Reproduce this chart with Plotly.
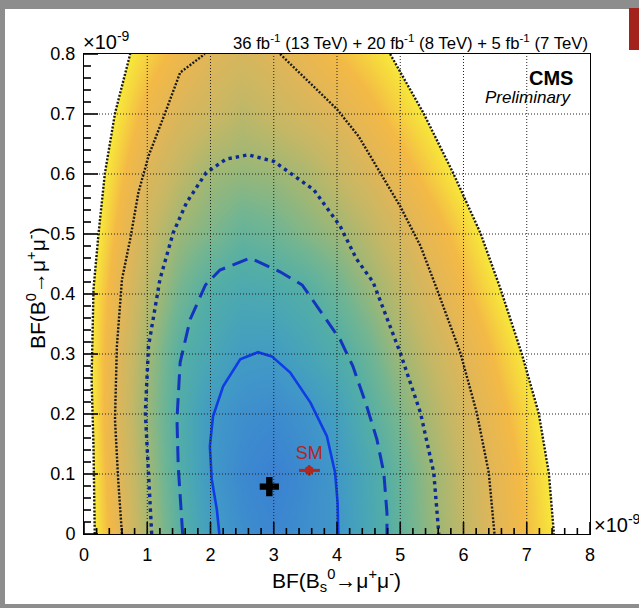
import plotly.graph_objects as go

# ---------------- data ----------------
# significance surface (in sigma) on a coarse grid
SIG_X = [0, 0.5, 1, 1.5, 2, 2.5, 3, 3.5, 4, 4.5, 5, 5.5, 6, 6.5, 7, 7.5, 8]
SIG_Y = [0, 0.1, 0.2, 0.3, 0.4, 0.5, 0.6, 0.7, 0.8]
SIG_Z = [
    [5.40, 4.23, 3.15, 2.12, 1.24, 0.70, 0.39, 0.69, 0.99, 1.63, 2.26, 2.87, 3.44, 4.01, 4.54, 5.07, 5.60],
    [5.38, 4.10, 3.04, 1.98, 1.04, 0.50, 0.11, 0.58, 1.05, 1.69, 2.33, 2.96, 3.54, 4.11, 4.63, 5.16, 5.68],
    [5.36, 3.98, 2.94, 1.95, 1.09, 0.72, 0.58, 0.85, 1.31, 2.04, 2.62, 3.20, 3.76, 4.30, 4.81, 5.32, 5.83],
    [5.30, 4.05, 3.04, 2.08, 1.61, 1.19, 1.16, 1.52, 1.88, 2.40, 3.00, 3.53, 4.05, 4.56, 5.07, 5.58, 6.10],
    [5.30, 4.23, 3.29, 2.51, 1.93, 1.70, 1.77, 1.96, 2.39, 2.87, 3.39, 3.91, 4.41, 4.90, 5.40, 5.90, 6.40],
    [5.46, 4.46, 3.60, 2.94, 2.62, 2.29, 2.43, 2.69, 2.94, 3.35, 3.80, 4.27, 4.74, 5.22, 5.70, 6.20, 6.70],
    [5.54, 4.72, 3.94, 3.43, 2.98, 2.87, 2.94, 3.14, 3.51, 3.87, 4.28, 4.71, 5.14, 5.57, 6.00, 6.40, 6.80],
    [5.62, 4.99, 4.35, 3.88, 3.62, 3.35, 3.57, 3.78, 4.00, 4.36, 4.73, 5.09, 5.46, 5.82, 6.20, 6.55, 6.90],
    [5.62, 5.19, 4.77, 4.35, 3.97, 3.80, 3.97, 4.23, 4.52, 4.80, 5.09, 5.38, 5.67, 5.95, 6.20, 6.50, 6.80],
]

# 1 sigma contour (solid)
C1_X = [2.14, 2.10, 2.02, 1.99, 2.04, 2.20, 2.47, 2.75, 2.97, 3.26, 3.58, 3.84, 3.97, 4.01, 4.02]
C1_Y = [0.0, 0.041, 0.091, 0.146, 0.196, 0.246, 0.291, 0.303, 0.296, 0.269, 0.219, 0.163, 0.102, 0.052, 0.0]
# 2 sigma contour (dashed)
C2_X = [1.56, 1.49, 1.47, 1.52, 1.68, 1.92, 2.15, 2.63, 3.10, 3.45, 4.05, 4.25, 4.47, 4.63, 4.74, 4.79, 4.79]
C2_Y = [0.0, 0.113, 0.191, 0.286, 0.358, 0.415, 0.440, 0.460, 0.437, 0.415, 0.324, 0.280, 0.213, 0.158, 0.102, 0.035, 0.0]
# 3 sigma contour (blue dotted)
C3_X = [1.07, 1.02, 0.97, 1.02, 1.20, 1.41, 1.62, 1.93, 2.25, 2.60, 3.00, 3.63, 4.05, 4.31, 4.57, 5.00, 5.32, 5.53, 5.61]
C3_Y = [0.0, 0.091, 0.202, 0.313, 0.424, 0.502, 0.552, 0.602, 0.625, 0.632, 0.621, 0.574, 0.513, 0.458, 0.420, 0.302, 0.202, 0.102, 0.0]
# 4 sigma contour (black dotted), leaves the frame at the top
C4_X = [0.60, 0.54, 0.49, 0.52, 0.60, 0.73, 0.86, 1.02, 1.28, 1.52, 1.91, None,
        3.10, 3.63, 4.00, 4.34, 4.68, 5.00, 5.32, 5.58, 5.95, 6.21, 6.40, 6.49]
C4_Y = [0.0, 0.091, 0.191, 0.313, 0.424, 0.491, 0.569, 0.630, 0.701, 0.769, 0.8, None,
        0.8, 0.746, 0.708, 0.663, 0.602, 0.546, 0.480, 0.408, 0.302, 0.202, 0.102, 0.0]
# outer edge of the scanned region (black dotted)
EDGE_L_X = [0.17, 0.15, 0.12, 0.15, 0.23, 0.33, 0.49, 0.73]
EDGE_L_Y = [0.0, 0.146, 0.258, 0.408, 0.501, 0.601, 0.701, 0.8]
EDGE_R_X = [4.84, 5.37, 5.84, 6.27, 6.58, 6.92, 7.19, 7.35, 7.43]
EDGE_R_Y = [0.8, 0.701, 0.601, 0.501, 0.410, 0.301, 0.201, 0.101, 0.0]

BEST_X = [2.93]
BEST_Y = [0.079]
SM_X = [3.56]
SM_Y = [0.106]
SM_XERR_M = [0.16]
SM_XERR_P = [0.17]
SM_YERR = [0.009]

X_TICKS = [0, 1, 2, 3, 4, 5, 6, 7, 8]
Y_TICKS = [0, 0.1, 0.2, 0.3, 0.4, 0.5, 0.6, 0.7, 0.8]
N_MINOR = 5

FONT = "Liberation Sans, Arial, Helvetica, sans-serif"

# ---------------- figure ----------------
W, H = 639, 608
ML, MR, MT, MB = 84, 49, 54, 74
PW, PH = W - ML - MR, H - MT - MB
XR = X_TICKS[-1] - X_TICKS[0]
YR = Y_TICKS[-1] - Y_TICKS[0]


def px(x):
    return (x - ML) / PW


def py(y):
    return (H - MB - y) / PH


colorscale = [
    [0.00, "#3a7fd3"], [0.10, "#3c89cf"], [0.20, "#4097c8"], [0.30, "#47a4b8"],
    [0.40, "#53aea6"], [0.50, "#72b592"], [0.60, "#a0b774"], [0.70, "#c6b765"],
    [0.80, "#e0b658"], [0.90, "#f3b946"], [0.96, "#f6d63e"], [1.00, "#f7e93a"],
]

fig = go.Figure()
fig.add_trace(go.Heatmap(x=SIG_X, y=SIG_Y, z=SIG_Z, zmin=0, zmax=5, zsmooth="best",
                         colorscale=colorscale, showscale=False, hoverinfo="skip"))

# white outside the scanned region
fig.add_trace(go.Scatter(x=EDGE_L_X + [0, 0], y=EDGE_L_Y + [0.8, 0], fill="toself",
                         fillcolor="white", line=dict(width=0), mode="lines",
                         hoverinfo="skip", showlegend=False))
fig.add_trace(go.Scatter(x=EDGE_R_X + [8, 8], y=EDGE_R_Y + [0, 0.8], fill="toself",
                         fillcolor="white", line=dict(width=0), mode="lines",
                         hoverinfo="skip", showlegend=False))

# contours
for xs, ys in [(EDGE_L_X, EDGE_L_Y), (EDGE_R_X, EDGE_R_Y), (C4_X, C4_Y)]:
    fig.add_trace(go.Scatter(x=xs, y=ys, mode="lines",
                             line=dict(color="#1a1a1a", width=2.4, dash="2px,1.6px"),
                             hoverinfo="skip", showlegend=False, connectgaps=False))
fig.add_trace(go.Scatter(x=C3_X, y=C3_Y, mode="lines",
                         line=dict(color="#0c2a94", width=3.4, dash="3.4px,4px"),
                         hoverinfo="skip", showlegend=False))
fig.add_trace(go.Scatter(x=C2_X, y=C2_Y, mode="lines",
                         line=dict(color="#1434c0", width=3, dash="16px,8px"),
                         hoverinfo="skip", showlegend=False))
fig.add_trace(go.Scatter(x=C1_X, y=C1_Y, mode="lines",
                         line=dict(color="#0f3ce6", width=2.6),
                         hoverinfo="skip", showlegend=False))

# inside ticks on the left and bottom axes (ROOT style), built from the tick lists
tx, ty = [], []
for i, xv in enumerate(X_TICKS):
    tx += [xv, xv, None]
    ty += [Y_TICKS[0], Y_TICKS[0] + 12 * YR / PH, None]
    if i < len(X_TICKS) - 1:
        step = (X_TICKS[i + 1] - xv) / N_MINOR
        for k in range(1, N_MINOR):
            tx += [xv + k * step, xv + k * step, None]
            ty += [Y_TICKS[0], Y_TICKS[0] + 6 * YR / PH, None]
for i, yv in enumerate(Y_TICKS):
    tx += [X_TICKS[0], X_TICKS[0] + 14 * XR / PW, None]
    ty += [yv, yv, None]
    if i < len(Y_TICKS) - 1:
        step = (Y_TICKS[i + 1] - yv) / N_MINOR
        for k in range(1, N_MINOR):
            tx += [X_TICKS[0], X_TICKS[0] + 7 * XR / PW, None]
            ty += [yv + k * step, yv + k * step, None]
fig.add_trace(go.Scatter(x=tx, y=ty, mode="lines", line=dict(color="black", width=1.6),
                         hoverinfo="skip", showlegend=False, connectgaps=False))

# best fit and SM
fig.add_trace(go.Scatter(x=BEST_X, y=BEST_Y, mode="markers",
                         marker=dict(symbol="cross", size=16, color="black"),
                         hoverinfo="skip", showlegend=False))
fig.add_trace(go.Scatter(x=SM_X, y=SM_Y, mode="markers+text", text=["SM"],
                         textposition="top center",
                         textfont=dict(family=FONT, size=18, color="#b0281e"),
                         marker=dict(symbol="circle", size=9, color="#b0281e"),
                         error_x=dict(type="data", symmetric=False, array=SM_XERR_P,
                                      arrayminus=SM_XERR_M, color="#b0281e",
                                      thickness=3, width=0),
                         error_y=dict(type="data", array=SM_YERR, color="#b0281e",
                                      thickness=2, width=0),
                         hoverinfo="skip", showlegend=False))

shapes = []
GRID = dict(color="#222222", width=1, dash="1px,2px")
# dotted grid above the map
for xv in X_TICKS[1:-1]:
    shapes.append(dict(type="line", xref="x", yref="y", x0=xv, x1=xv, y0=Y_TICKS[0], y1=Y_TICKS[-1],
                       line=GRID, layer="above"))
for yv in Y_TICKS[1:-1]:
    shapes.append(dict(type="line", xref="x", yref="y", x0=X_TICKS[0], x1=X_TICKS[-1], y0=yv, y1=yv,
                       line=GRID, layer="above"))

# slide background around the white panel
GRAY = "#8d8d8d"
shapes += [
    dict(type="rect", xref="paper", yref="paper", x0=px(0), x1=px(W), y0=py(9), y1=py(0),
         fillcolor=GRAY, line=dict(width=0), layer="above"),
    dict(type="rect", xref="paper", yref="paper", x0=px(0), x1=px(5), y0=py(H), y1=py(0),
         fillcolor=GRAY, line=dict(width=0), layer="above"),
    dict(type="rect", xref="paper", yref="paper", x0=px(0), x1=px(W), y0=py(H), y1=py(604),
         fillcolor=GRAY, line=dict(width=0), layer="above"),
    dict(type="rect", xref="paper", yref="paper", x0=px(629), x1=px(W), y0=py(50), y1=py(8),
         fillcolor="#a3221c", line=dict(width=0), layer="above"),
]

annotations = [
    dict(text="36 fb<sup>-1</sup> (13 TeV) + 20 fb<sup>-1</sup> (8 TeV) + 5 fb<sup>-1</sup> (7 TeV)",
         x=1.0, y=py(42), xref="paper", yref="paper", xanchor="right", yanchor="middle",
         showarrow=False, font=dict(family=FONT, size=16.7, color="black")),
    dict(text="×10<sup>-9</sup>", x=px(81), y=py(41), xref="paper", yref="paper",
         xanchor="left", yanchor="middle", showarrow=False,
         font=dict(family=FONT, size=20, color="black")),
    dict(text="×10<sup>-9</sup>", x=px(592), y=py(523), xref="paper", yref="paper",
         xanchor="left", yanchor="middle", showarrow=False,
         font=dict(family=FONT, size=20, color="black")),
    dict(text="<b>CMS</b>", x=px(575), y=py(78), xref="paper", yref="paper",
         xanchor="right", yanchor="middle", showarrow=False,
         font=dict(family=FONT, size=20, color="black")),
    dict(text="<i>Preliminary</i>", x=px(574), y=py(97), xref="paper", yref="paper",
         xanchor="right", yanchor="middle", showarrow=False,
         font=dict(family=FONT, size=17, color="black")),
    dict(text="BF(B<sub>s</sub><sup>0</sup>→μ<sup>+</sup>μ<sup>-</sup>)", x=px(336), y=py(580),
         xref="paper", yref="paper", xanchor="center", yanchor="middle", showarrow=False,
         font=dict(family=FONT, size=21, color="black")),
    dict(text="BF(B<sup>0</sup>→μ<sup>+</sup>μ<sup>-</sup>)", x=px(36), y=py(288),
         xref="paper", yref="paper", xanchor="center", yanchor="middle", showarrow=False,
         textangle=-90, font=dict(family=FONT, size=21, color="black")),
]

axis_common = dict(showgrid=False, zeroline=False, showline=True, mirror=True,
                   linecolor="black", linewidth=1, ticks="", layer="above traces",
                   tickfont=dict(family=FONT, size=18, color="black"))

fig.update_layout(
    width=W, height=H,
    margin=dict(l=ML, r=MR, t=MT, b=MB, pad=0),
    paper_bgcolor="white", plot_bgcolor="white",
    xaxis=dict(range=[X_TICKS[0], X_TICKS[-1]], tickvals=X_TICKS, ticklabelstandoff=4,
               **axis_common),
    yaxis=dict(range=[Y_TICKS[0], Y_TICKS[-1]], tickvals=Y_TICKS, ticklabelstandoff=4,
               **axis_common),
    shapes=shapes, annotations=annotations, showlegend=False,
)

fig.write_html("out.html")
